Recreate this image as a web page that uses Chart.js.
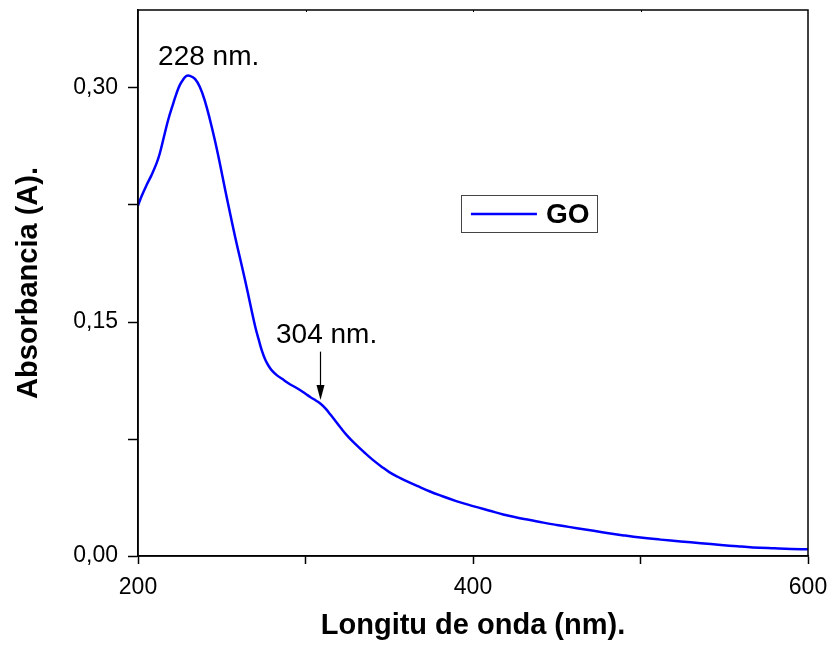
<!DOCTYPE html>
<html>
<head>
<meta charset="utf-8">
<script src="https://cdn.jsdelivr.net/npm/chart.js@4/dist/chart.umd.min.js"></script>
<style>
  html, body { margin: 0; padding: 0; background: #fff; }
  #wrap { width: 834px; height: 647px; }
</style>
</head>
<body>
<div id="wrap"><canvas id="uv-chart" width="834" height="647"></canvas></div>
<script>
const wavelengths = [200, 202, 205, 208, 211, 213, 216, 218, 221, 223, 225, 227, 229, 231, 234, 237, 240, 243, 246, 249, 252, 255, 258, 261, 264, 267, 270, 272, 274, 276, 278, 280, 283, 286, 290, 295, 300, 303, 306, 309, 312, 315, 318, 321, 325, 330, 335, 340, 346, 350, 355, 360, 367, 374, 380, 390, 400, 410, 418, 426, 434, 442, 450, 458, 466, 478, 490, 500, 512, 524, 536, 548, 558, 567, 580, 590, 600];
const absorbance = [0.2245, 0.2303, 0.2375, 0.244, 0.2515, 0.258, 0.271, 0.2795, 0.290, 0.2966, 0.302, 0.3055, 0.3078, 0.3078, 0.3058, 0.3005, 0.2915, 0.2795, 0.266, 0.251, 0.235, 0.2195, 0.2045, 0.1905, 0.1765, 0.1615, 0.147, 0.139, 0.1315, 0.1258, 0.1218, 0.1188, 0.1158, 0.1136, 0.1106, 0.1075, 0.104, 0.1018, 0.0998, 0.0976, 0.0945, 0.0905, 0.0864, 0.0822, 0.077, 0.0715, 0.0665, 0.0618, 0.0568, 0.0538, 0.0508, 0.0482, 0.0448, 0.0415, 0.039, 0.0352, 0.032, 0.029, 0.0266, 0.0247, 0.0231, 0.0214, 0.0199, 0.0185, 0.0172, 0.0151, 0.0132, 0.0118, 0.0105, 0.0093, 0.0082, 0.0071, 0.0062, 0.0055, 0.0049, 0.0045, 0.0043];

const seriesLabel = 'GO';
const xMajorTicks = [200, 400, 600];
const yMajorTicks = [0, 0.15, 0.30];

// anotaciones: texto, posicion (nm, A)
const peakLabel = { text: '228 nm.', x: 212, y: 0.3147 };
const shoulderLabel = { text: '304 nm.', x: 282.4, y: 0.1363 };
const shoulderArrow = { x: 308.7, yFrom: 0.131, yTo: 0.1 };

const FONT = '"Liberation Sans", Arial, sans-serif';

function fmtComma(v) {
  return v.toFixed(2).replace('.', ',');
}

// marco, flecha, textos y leyenda
const decorPlugin = {
  id: 'decor',
  afterDatasetsDraw(chart) {
    const { ctx, chartArea: a, scales } = chart;
    const xs = scales.x, ys = scales.y;
    ctx.save();

    // marco completo
    ctx.strokeStyle = '#000';
    ctx.lineWidth = 1.5;
    ctx.strokeRect(a.left, a.top, a.right - a.left, a.bottom - a.top);

    // marcas pequenas del eje superior
    ctx.lineWidth = 1;
    ctx.beginPath();
    [300, 400, 500].forEach(v => {
      const px = Math.round(xs.getPixelForValue(v)) + 0.5;
      ctx.moveTo(px, a.top);
      ctx.lineTo(px, a.top + 2);
    });
    ctx.stroke();

    ctx.fillStyle = '#000';
    ctx.font = '28px ' + FONT;
    ctx.textAlign = 'left';
    ctx.textBaseline = 'alphabetic';
    ctx.fillText(peakLabel.text, xs.getPixelForValue(peakLabel.x), ys.getPixelForValue(peakLabel.y));
    ctx.fillText(shoulderLabel.text, xs.getPixelForValue(shoulderLabel.x), ys.getPixelForValue(shoulderLabel.y));

    // flecha 304 nm
    const ax = Math.round(xs.getPixelForValue(shoulderArrow.x)) + 0.5;
    const ay1 = ys.getPixelForValue(shoulderArrow.yFrom);
    const ay2 = ys.getPixelForValue(shoulderArrow.yTo);
    ctx.lineWidth = 1.2;
    ctx.beginPath();
    ctx.moveTo(ax, ay1);
    ctx.lineTo(ax, ay2 - 10);
    ctx.stroke();
    ctx.beginPath();
    ctx.moveTo(ax - 4, ay2 - 15);
    ctx.lineTo(ax + 4, ay2 - 15);
    ctx.lineTo(ax, ay2);
    ctx.closePath();
    ctx.fill();

    // leyenda dentro del area
    const w = a.right - a.left, h = a.bottom - a.top;
    const bx = a.left + w * 0.482, by = a.top + h * 0.339;
    const bw = w * 0.203, bh = h * 0.068;
    ctx.lineWidth = 1;
    ctx.strokeStyle = '#444';
    ctx.strokeRect(Math.round(bx) + 0.5, Math.round(by) + 0.5, Math.round(bw), Math.round(bh));
    const ly = Math.round(by + bh * 0.52);
    ctx.strokeStyle = '#0000ff';
    ctx.lineWidth = 2.5;
    ctx.beginPath();
    ctx.moveTo(bx + 10, ly);
    ctx.lineTo(bx + 76, ly);
    ctx.stroke();
    ctx.fillStyle = '#000';
    ctx.font = 'bold 28px ' + FONT;
    ctx.textBaseline = 'middle';
    ctx.fillText(chart.data.datasets[0].label, bx + 85, ly + 1);

    ctx.restore();
  }
};

function renderChart() {
  const points = wavelengths.map((x, i) => ({ x: x, y: absorbance[i] }));

  new Chart(document.getElementById('uv-chart'), {
    type: 'line',
    data: {
      datasets: [{
        label: seriesLabel,
        data: points,
        borderColor: '#0000ff',
        borderWidth: 2.5,
        pointRadius: 0,
        fill: false,
        tension: 0.4
      }]
    },
    options: {
      responsive: false,
      animation: false,
      layout: { padding: { top: 10, right: 26, left: 0, bottom: 0 } },
      plugins: {
        legend: { display: false },
        tooltip: { enabled: false }
      },
      scales: {
        x: {
          type: 'linear',
          min: 200,
          max: 600,
          afterFit(scale) {
            scale.height = 91;
            scale.paddingLeft = 0;
            scale.paddingRight = 0;
          },
          ticks: {
            stepSize: 100,
            color: '#000',
            padding: 10,
            maxRotation: 0,
            font: { family: FONT, size: 23 },
            callback: v => xMajorTicks.includes(v) ? String(v) : ''
          },
          grid: {
            drawOnChartArea: false,
            tickLength: 8,
            tickColor: '#000',
            tickWidth: 1.5
          },
          border: { color: '#000', width: 1.5 },
          title: {
            display: true,
            text: 'Longitu de onda (nm).',
            color: '#000',
            padding: { top: 0, bottom: 4 },
            font: { family: FONT, size: 29, weight: 'bold' }
          }
        },
        y: {
          min: 0,
          max: 0.35,
          afterFit(scale) {
            scale.width = 138;
            scale.paddingTop = 0;
            scale.paddingBottom = 0;
          },
          ticks: {
            stepSize: 0.075,
            includeBounds: false,
            color: '#000',
            padding: 10,
            font: { family: FONT, size: 23 },
            callback: v => yMajorTicks.some(t => Math.abs(t - v) < 1e-6) ? fmtComma(v) : ''
          },
          grid: {
            drawOnChartArea: false,
            tickLength: 10,
            tickColor: '#000',
            tickWidth: 1.5
          },
          border: { color: '#000', width: 1.5 },
          title: {
            display: true,
            text: 'Absorbancia (A).',
            color: '#000',
            padding: { top: 12, bottom: 0 },
            font: { family: FONT, size: 29, weight: 'bold' }
          }
        }
      }
    },
    plugins: [decorPlugin]
  });
}

renderChart();
</script>
</body>
</html>
